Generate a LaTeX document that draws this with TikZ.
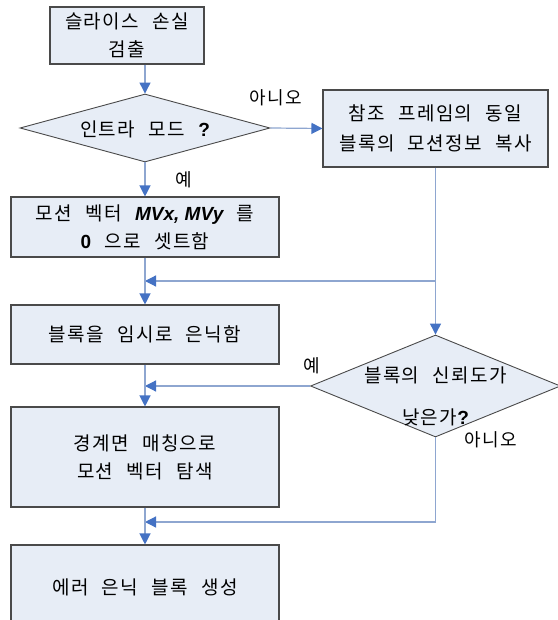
\documentclass[tikz,border=0pt]{standalone}
\usepackage{fontspec}
\setmainfont[LetterSpace=7,WordSpace=2.4]{Noto Sans CJK KR}
\newfontfamily\lat{Liberation Sans}
\usetikzlibrary{arrows.meta,shapes.geometric,calc}
\definecolor{boxfill}{HTML}{E7EDF6}
\definecolor{boxline}{HTML}{4A4A4A}
\definecolor{connc}{HTML}{8EA6D0}
\definecolor{tipc}{HTML}{4472C4}
\begin{document}
\begin{tikzpicture}[x=1pt,y=-1pt,
  box/.style={draw=boxline, line width=1.1pt, fill=boxfill, inner sep=0pt, align=center, font=\fontsize{19}{28}\selectfont},
  dia/.style={diamond, draw=boxline, line width=0.9pt, fill=boxfill, inner sep=0pt},
  txt/.style={font=\fontsize{19}{28}\selectfont, align=center, inner sep=0pt},
  lbl/.style={font=\fontsize{18}{20}\selectfont, inner sep=0pt},
  conn/.style={draw=connc, line width=1.2pt},
  arr/.style={conn, -{Triangle[width=11pt,length=11pt,color=tipc]}}]
\useasboundingbox (0,0) rectangle (557,620);
\fill[white] (0,0) rectangle (557,620);
% boxes
\node[box, minimum width=154pt, minimum height=57pt] (b1) at (127,35.5) {슬라이스 손실\\검출};
\node[dia, minimum width=250pt, minimum height=68pt] (d1) at (145,128) {};
\node[txt] (d1t) at (145,129) {인트라 모드 {\lat\bfseries ?}};
\node[box, minimum width=225pt, minimum height=77pt, font=\fontsize{19}{30}\selectfont] (b2) at (435.5,128.5) {참조 프레임의 동일\\블록의 모션정보 복사};
\node[box, minimum width=268pt, minimum height=60pt] (b3) at (145,227) {모션 벡터 {\lat\bfseries\itshape MVx, MVy} 를\\{\lat\bfseries 0} 으로 셋트함};
\node[box, minimum width=268pt, minimum height=59pt] (b4) at (145,334.5) {블록을 임시로 은닉함};
\node[box, minimum width=268pt, minimum height=100pt] (b5) at (145,457) {경계면 매칭으로\\모션 벡터 탐색};
\node[box, minimum width=268pt, minimum height=84pt] (b6) at (145,587) {에러 은닉 블록 생성};
\node[dia, minimum width=250pt, minimum height=102pt] (d2) at (435.5,386) {};
\node[txt, font=\fontsize{19}{42}\selectfont] (d2t) at (435.5,396) {블록의 신뢰도가\\낮은가{\lat\bfseries ?}};
% labels
\node[lbl] (l1) at (276,98) {아니오};
\node[lbl] (l2) at (184,180) {예};
\node[lbl] (l3) at (312,366) {예};
\node[lbl] (l4) at (491,440) {아니오};
% connectors
\coordinate (y1) at (0,281);
\coordinate (y3) at (0,522);
\coordinate (j1) at (b2.south |- y1);
\draw[arr] (b1.south -| d1.north) -- (d1.north);
\draw[arr] (d1.east) -- (b2.west);
\draw[arr] (d1.south) -- (b3.north);
\draw[arr] (b2.south) -- (d2.north);
\draw[arr] (j1) -- (j1 -| b3.south);
\draw[arr] (b3.south) -- (b4.north);
\draw[arr] (d2.west) -- (d2.west -| b4.south);
\draw[arr] (b4.south) -- (b5.north);
\draw[arr] (d2.south) -- (d2.south |- y3) -- (y3 -| b5.south);
\draw[arr] (b5.south) -- (b6.north);
\end{tikzpicture}
\end{document}
